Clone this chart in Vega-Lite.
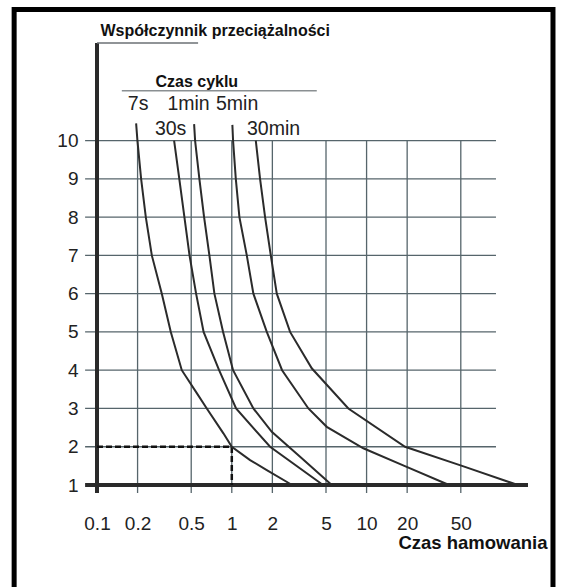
{
  "$schema": "https://vega.github.io/schema/vega-lite/v6.json",
  "width": 431,
  "height": 442,
  "autosize": {"type": "none"},
  "padding": {"left": 97, "top": 43, "right": 35, "bottom": 102},
  "background": "white",
  "config": {
    "view": {"stroke": null},
    "font": "Liberation Sans",
    "axisX": {
      "domain": false, "ticks": false, "tickSize": 0, "grid": false,
      "labelPadding": 38, "labelBaseline": "middle", "labelFontSize": 19, "labelFont": "Liberation Sans", "labelColor": "#222", "labelFlush": false, "labelOverlap": false,
      "titleX": 450, "titleY": 57, "titleAlign": "right", "titleBaseline": "middle",
      "titleFontSize": 18.5, "titleFontWeight": "bold", "titleColor": "#111", "titleFont": "Liberation Sans"
    },
    "axisY": {
      "domain": false, "ticks": false, "tickSize": 0, "grid": false,
      "labelPadding": 19, "labelFontSize": 19, "labelFont": "Liberation Sans", "labelColor": "#222", "labelFlush": false, "labelOverlap": false,
      "titleAngle": 0, "titleAlign": "left", "titleBaseline": "middle",
      "titleX": 3, "titleY": -13, "titleFontSize": 16, "titleFontWeight": "bold", "titleColor": "#111", "titleFont": "Liberation Sans"
    }
  },
  "datasets": {
    "hgrid": [{"k": 2}, {"k": 3}, {"k": 4}, {"k": 5}, {"k": 6}, {"k": 7}, {"k": 8}, {"k": 9}, {"k": 10}],
    "vgrid": [{"t": 0.2}, {"t": 0.5}, {"t": 1}, {"t": 2}, {"t": 5}, {"t": 10}, {"t": 20}, {"t": 50}],
    "curves": [
      {"series": "7s", "t": 0.1951, "k": 10.45},
      {"series": "7s", "t": 0.1995, "k": 10},
      {"series": "7s", "t": 0.2125, "k": 9},
      {"series": "7s", "t": 0.2302, "k": 8},
      {"series": "7s", "t": 0.2551, "k": 7},
      {"series": "7s", "t": 0.3026, "k": 6},
      {"series": "7s", "t": 0.3528, "k": 5},
      {"series": "7s", "t": 0.4257, "k": 4},
      {"series": "7s", "t": 0.55, "k": 3.4},
      {"series": "7s", "t": 0.6525, "k": 3},
      {"series": "7s", "t": 0.8664, "k": 2.35},
      {"series": "7s", "t": 1.0, "k": 2},
      {"series": "7s", "t": 1.367, "k": 1.65},
      {"series": "7s", "t": 1.818, "k": 1.39},
      {"series": "7s", "t": 2.801, "k": 1},
      {"series": "30s", "t": 0.3733, "k": 10},
      {"series": "30s", "t": 0.4079, "k": 9},
      {"series": "30s", "t": 0.4451, "k": 8},
      {"series": "30s", "t": 0.4857, "k": 7},
      {"series": "30s", "t": 0.5435, "k": 6},
      {"series": "30s", "t": 0.6178, "k": 5},
      {"series": "30s", "t": 0.805, "k": 4},
      {"series": "30s", "t": 1.076, "k": 3},
      {"series": "30s", "t": 1.923, "k": 2},
      {"series": "30s", "t": 4.755, "k": 1},
      {"series": "1min", "t": 0.5254, "k": 10.43},
      {"series": "1min", "t": 0.5343, "k": 10},
      {"series": "1min", "t": 0.5748, "k": 9},
      {"series": "1min", "t": 0.623, "k": 8},
      {"series": "1min", "t": 0.6821, "k": 7},
      {"series": "1min", "t": 0.743, "k": 6},
      {"series": "1min", "t": 0.8619, "k": 5},
      {"series": "1min", "t": 1.022, "k": 4},
      {"series": "1min", "t": 1.446, "k": 3},
      {"series": "1min", "t": 1.98, "k": 2.39},
      {"series": "1min", "t": 3.211, "k": 1.74},
      {"series": "1min", "t": 5.516, "k": 1},
      {"series": "5min", "t": 1.01, "k": 10.41},
      {"series": "5min", "t": 1.022, "k": 10},
      {"series": "5min", "t": 1.071, "k": 9},
      {"series": "5min", "t": 1.139, "k": 8},
      {"series": "5min", "t": 1.292, "k": 7},
      {"series": "5min", "t": 1.446, "k": 6},
      {"series": "5min", "t": 1.818, "k": 5},
      {"series": "5min", "t": 2.361, "k": 4},
      {"series": "5min", "t": 3.7, "k": 3},
      {"series": "5min", "t": 5.065, "k": 2.52},
      {"series": "5min", "t": 9.463, "k": 1.96},
      {"series": "5min", "t": 19.06, "k": 1.5},
      {"series": "5min", "t": 40.89, "k": 1},
      {"series": "30min", "t": 1.507, "k": 10},
      {"series": "30min", "t": 1.621, "k": 9},
      {"series": "30min", "t": 1.766, "k": 8},
      {"series": "30min", "t": 1.947, "k": 7},
      {"series": "30min", "t": 2.157, "k": 6},
      {"series": "30min", "t": 2.707, "k": 5},
      {"series": "30min", "t": 3.92, "k": 4.05},
      {"series": "30min", "t": 7.324, "k": 3},
      {"series": "30min", "t": 19.29, "k": 2},
      {"series": "30min", "t": 51.07, "k": 1.5},
      {"series": "30min", "t": 132.2, "k": 1}
    ],
    "labels": [
      {"label": "7s", "t": 0.2018, "k": 10.945},
      {"label": "1min", "t": 0.478, "k": 10.945},
      {"label": "5min", "t": 1.095, "k": 10.945},
      {"label": "30s", "t": 0.3516, "k": 10.305},
      {"label": "30min", "t": 2.042, "k": 10.305}
    ]
  },
  "layer": [
    {
      "data": {"name": "hgrid"},
      "mark": {"type": "rule", "color": "#56656b", "strokeWidth": 1.3},
      "encoding": {
        "y": {
          "field": "k", "type": "quantitative",
          "scale": {"domain": [1, 12.55], "nice": false, "zero": false},
          "title": "Współczynnik przeciążalności",
          "axis": {"values": [1, 2, 3, 4, 5, 6, 7, 8, 9, 10]}
        },
        "x": {
          "datum": 0.0816, "type": "quantitative",
          "scale": {"type": "log", "domain": [0.1, 157.6], "nice": false},
          "title": "Czas hamowania",
          "axis": {"values": [0.1, 0.2, 0.5, 1, 2, 5, 10, 20, 50], "format": "~g"}
        },
        "x2": {"datum": 91.2}
      }
    },
    {
      "data": {"name": "vgrid"},
      "mark": {"type": "rule", "color": "#56656b", "strokeWidth": 1.3},
      "encoding": {
        "x": {"field": "t", "type": "quantitative", "title": "Czas hamowania"},
        "y": {"datum": 0.79, "type": "quantitative", "title": "Współczynnik przeciążalności"},
        "y2": {"datum": 10}
      }
    },
    {
      "data": {"values": [{}]},
      "mark": {"type": "rect", "fillOpacity": 0, "stroke": "#000", "strokeWidth": 5},
      "encoding": {
        "x": {"datum": 0.02428, "type": "quantitative", "title": "Czas hamowania"},
        "x2": {"datum": 241.5},
        "y": {"datum": 13.428, "type": "quantitative", "title": "Współczynnik przeciążalności"},
        "y2": {"datum": -2.006}
      }
    },
    {
      "data": {"values": [{}]},
      "mark": {"type": "rule", "color": "#2a2a2a", "strokeWidth": 4},
      "encoding": {
        "x": {"datum": 0.0816, "type": "quantitative", "title": "Czas hamowania"},
        "x2": {"datum": 157.6},
        "y": {"datum": 1, "type": "quantitative", "title": "Współczynnik przeciążalności"}
      }
    },
    {
      "data": {"values": [{}]},
      "mark": {"type": "rule", "color": "#2a2a2a", "strokeWidth": 4},
      "encoding": {
        "x": {"datum": 0.1, "type": "quantitative", "title": "Czas hamowania"},
        "y": {"datum": 0.79, "type": "quantitative", "title": "Współczynnik przeciążalności"},
        "y2": {"datum": 12.55}
      }
    },
    {
      "data": {"values": [{}]},
      "mark": {"type": "rule", "color": "#6b7175", "strokeWidth": 1.5},
      "encoding": {
        "x": {"datum": 0.1, "type": "quantitative", "title": "Czas hamowania"},
        "x2": {"datum": 0.5623},
        "y": {"datum": 12.55, "type": "quantitative", "title": "Współczynnik przeciążalności"}
      }
    },
    {
      "data": {"values": [{}]},
      "mark": {"type": "rule", "color": "#8a8f92", "strokeWidth": 1.5},
      "encoding": {
        "x": {"datum": 0.1528, "type": "quantitative", "title": "Czas hamowania"},
        "x2": {"datum": 4.27},
        "y": {"datum": 11.3, "type": "quantitative", "title": "Współczynnik przeciążalności"}
      }
    },
    {
      "data": {"values": [{"t": 0.1, "k": 2, "o": 1}, {"t": 1, "k": 2, "o": 2}, {"t": 1, "k": 1, "o": 3}]},
      "mark": {"type": "line", "color": "#111", "strokeWidth": 2.5, "strokeDash": [6, 3]},
      "encoding": {
        "x": {"field": "t", "type": "quantitative", "title": "Czas hamowania"},
        "y": {"field": "k", "type": "quantitative", "title": "Współczynnik przeciążalności"},
        "order": {"field": "o"}
      }
    },
    {
      "data": {"name": "curves"},
      "mark": {"type": "line", "color": "#2b2b2b", "strokeWidth": 2},
      "encoding": {
        "x": {"field": "t", "type": "quantitative", "title": "Czas hamowania"},
        "y": {"field": "k", "type": "quantitative", "title": "Współczynnik przeciążalności"},
        "detail": {"field": "series"}
      }
    },
    {
      "data": {"name": "labels"},
      "mark": {"type": "text", "font": "Liberation Sans", "fontSize": 19.5, "color": "#222", "align": "center", "baseline": "middle"},
      "encoding": {
        "x": {"field": "t", "type": "quantitative", "title": "Czas hamowania"},
        "y": {"field": "k", "type": "quantitative", "title": "Współczynnik przeciążalności"},
        "text": {"field": "label"}
      }
    },
    {
      "data": {"values": [{"label": "Czas cyklu", "t": 0.55, "k": 11.54}]},
      "mark": {"type": "text", "font": "Liberation Sans", "fontSize": 16, "fontWeight": "bold", "color": "#111", "align": "center", "baseline": "middle"},
      "encoding": {
        "x": {"field": "t", "type": "quantitative", "title": "Czas hamowania"},
        "y": {"field": "k", "type": "quantitative", "title": "Współczynnik przeciążalności"},
        "text": {"field": "label"}
      }
    }
  ]
}
